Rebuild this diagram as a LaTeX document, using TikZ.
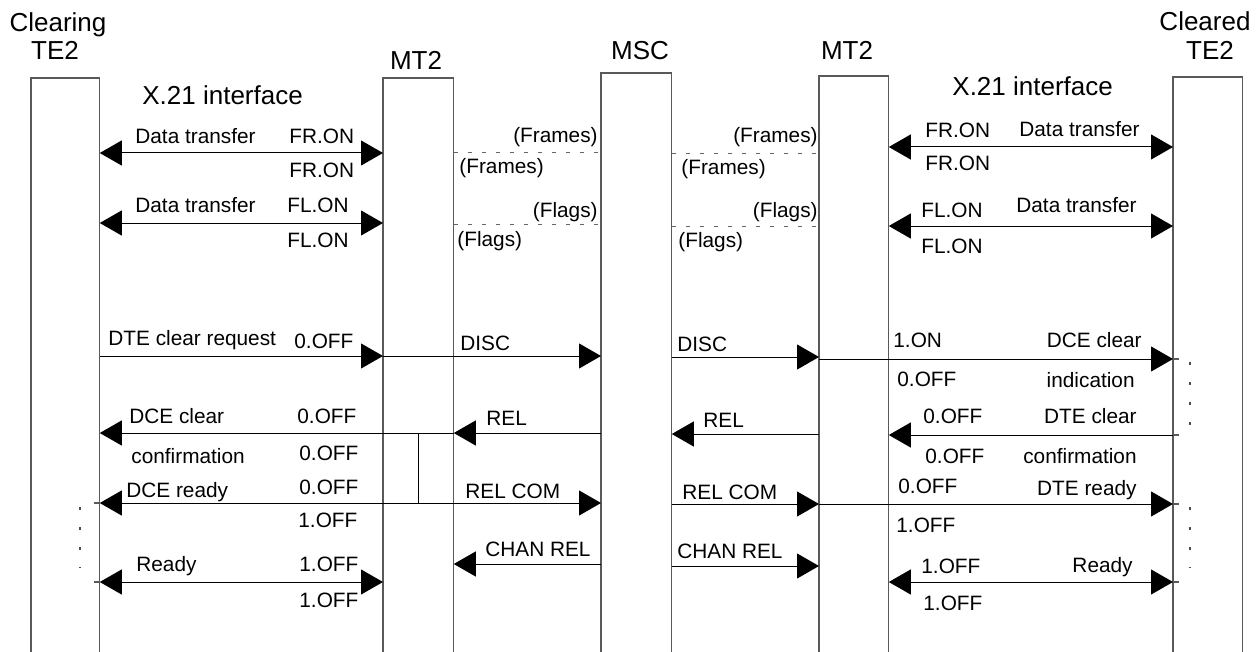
\documentclass[tikz,border=0pt]{standalone}
\usepackage{fontspec}
\setmainfont{Liberation Sans}
\usetikzlibrary{arrows.meta}

\begin{document}
\begin{tikzpicture}[
  x=0.5pt, y=-0.5pt,
  life/.style={rectangle, inner sep=0, anchor=north west},
  side/.style={draw=black!65, line width=0.6pt},
  head/.style={font=\fontsize{13}{15}\selectfont, inner sep=0, anchor=base},
  lbl/.style={font=\fontsize{10.4}{12}\selectfont, inner sep=0},
  msg/.style={-{Triangle[length=11pt, width=12.5pt]}, line width=0.5pt},
  both/.style={{Triangle[length=11pt, width=12.5pt]}-{Triangle[length=11pt, width=12.5pt]}, line width=0.5pt},
  carrier/.style={draw=black!60, line width=0.5pt, dash pattern=on 2pt off 5pt},
  dots/.style={draw=black!70, line width=0.6pt, dash pattern=on 1.5pt off 8.5pt}
]
  \useasboundingbox (0,0) rectangle (1256,652);

  % Entities (boxes open at the bottom)
  \foreach \n/\x/\t/\w/\h in {clr/31/78/34pt/287pt, mtl/383/78/35pt/287pt,
      msc/601/73/35pt/289.5pt, mtr/819/76/34.5pt/288pt, cld/1173/77/34.5pt/287.5pt}{
    \node[life, minimum width=\w, minimum height=\h] (\n) at (\x,\t) {};
    \draw[side] (\n.south west) |- (\n.north east) -- (\n.south east);
  }

  % Headings
  \node[head] (hclr) at (58,32) {Clearing};
  \node[head] (hclrte) at (55,60) {TE2};
  \node[head] (hmtl) at (416,70) {MT2};
  \node[head] (hmsc) at (640,60) {MSC};
  \node[head] (hmtr) at (847,60) {MT2};
  \node[head] (hcld) at (1205,31) {Cleared};
  \node[head] (hcldte) at (1210,60) {TE2};
  \node[head, anchor=base west] (ifl) at (142,105) {X.21 interface};
  \node[head, anchor=base west] (ifr) at (952,96) {X.21 interface};

  % Message rows
  \foreach \n/\y in {fr/153, frm/154, frr/147, fl/223, flm/224, flr/226,
      disc/356, discr/357, clrr/359, rel/433, relm/434, relr/435,
      rdy/503, rdyr/504, chl/564, chr/566, rd/582}
    \coordinate (y\n) at (0,\y);

  % Data transfer phase
  \draw[both] (clr.east |- yfr) -- (mtl.west |- yfr);
  \draw[carrier] (mtl.east |- yfr) -- (msc.west |- yfr);
  \draw[carrier] (msc.east |- yfrm) -- (mtr.west |- yfrm);
  \draw[both] (mtr.east |- yfrr) -- (cld.west |- yfrr);
  \draw[both] (clr.east |- yfl) -- (mtl.west |- yfl);
  \draw[carrier] (mtl.east |- yflm) -- (msc.west |- yflm);
  \draw[carrier] (msc.east |- yflr) -- (mtr.west |- yflr);
  \draw[both] (mtr.east |- yflr) -- (cld.west |- yflr);

  % Clearing
  \draw[msg] (clr.east |- ydisc) -- (mtl.west |- ydisc);
  \draw[msg] (mtl.west |- ydisc) -- (msc.west |- ydisc);
  \draw[msg] (msc.east |- ydiscr) -- (mtr.west |- ydiscr);
  \draw[msg] (mtr.west |- yclrr) -- (cld.west |- yclrr);
  \draw[msg] (msc.west |- yrel) -- (mtl.east |- yrel);
  \draw[msg] (mtl.east |- yrel) -- (clr.east |- yrel);
  \draw[msg] (mtr.west |- yrelm) -- (msc.east |- yrelm);
  \draw[msg] (cld.west |- yrelr) -- (mtr.east |- yrelr);
  \draw[line width=0.5pt] (mtl.center |- yrel) -- (mtl.center |- yrdy);
  \draw[both] (clr.east |- yrdy) -- (msc.west |- yrdy);
  \draw[msg] (msc.east |- yrdyr) -- (mtr.west |- yrdyr);
  \draw[msg] (mtr.west |- yrdyr) -- (cld.west |- yrdyr);
  \draw[msg] (msc.west |- ychl) -- (mtl.east |- ychl);
  \draw[msg] (msc.east |- ychr) -- (mtr.west |- ychr);
  \draw[both] (clr.east |- yrd) -- (mtl.west |- yrd);
  \draw[both] (mtr.east |- yrd) -- (cld.west |- yrd);

  % Idle marks beside the terminals
  \foreach \r in {yclrr, yrelr, yrdyr, yrd}
    \draw[side] (cld.west |- \r) -- ++(6,0);
  \foreach \r in {yrdy, yrd}
    \draw[side] (clr.east |- \r) -- ++(-6,0);
  \draw[dots] (1190,362) -- (1190,425);
  \draw[dots] (1190,507) -- (1190,568);
  \draw[dots] (80,507) -- (80,568);

  % Labels, left aligned
  \foreach \n/\x/\y/\t in {
      a1/135/144/Data transfer, a2/289/144/FR.ON, a3/289/177/FR.ON,
      a4/459/174/(Frames), a5/681/175/(Frames), a6/925/138/FR.ON, a7/925/171/FR.ON,
      b1/135/213/Data transfer, b2/287/213/FL.ON, b3/287/247/FL.ON,
      b4/457/246/(Flags), b5/678/247/(Flags), b6/921/217/FL.ON, b7/921/253/FL.ON,
      c1/108/345/DTE clear request, c2/294/348/0.OFF, c3/460/350/DISC,
      c4/677/351/DISC, c5/893/347/1.ON, c6/897/386/0.OFF,
      d1/129/423/DCE clear, d2/297/423/0.OFF, d3/131/463/confirmation,
      d4/299/460/0.OFF, d5/486/425/REL, d6/703/427/REL, d7/923/423/0.OFF, d8/925/463/0.OFF,
      e1/126/497/DCE ready, e2/299/494/0.OFF, e3/298/527/1.OFF, e4/465/498/REL COM,
      e5/682/499/REL COM, e6/898/493/0.OFF, e7/896/532/1.OFF,
      f1/136/571/Ready, f2/299/571/1.OFF, f3/299/607/1.OFF, f4/485/556/CHAN REL,
      f5/677/558/CHAN REL, f6/921/573/1.OFF, f7/923/610/1.OFF}
    \node[lbl, anchor=base west] (\n) at (\x,\y) {\t};

  % Labels, right aligned
  \foreach \n/\x/\y/\t in {
      g1/598/143/(Frames), g2/818/143/(Frames), g3/1140/137/Data transfer,
      g4/598/217/(Flags), g5/818/217/(Flags), g6/1137/213/Data transfer,
      g7/1142/347/DCE clear, g8/1135/387/indication, g9/1137/423/DTE clear,
      g10/1137/463/confirmation, g11/1137/495/DTE ready, g12/1133/572/Ready}
    \node[lbl, anchor=base east] (\n) at (\x,\y) {\t};
\end{tikzpicture}
\end{document}
